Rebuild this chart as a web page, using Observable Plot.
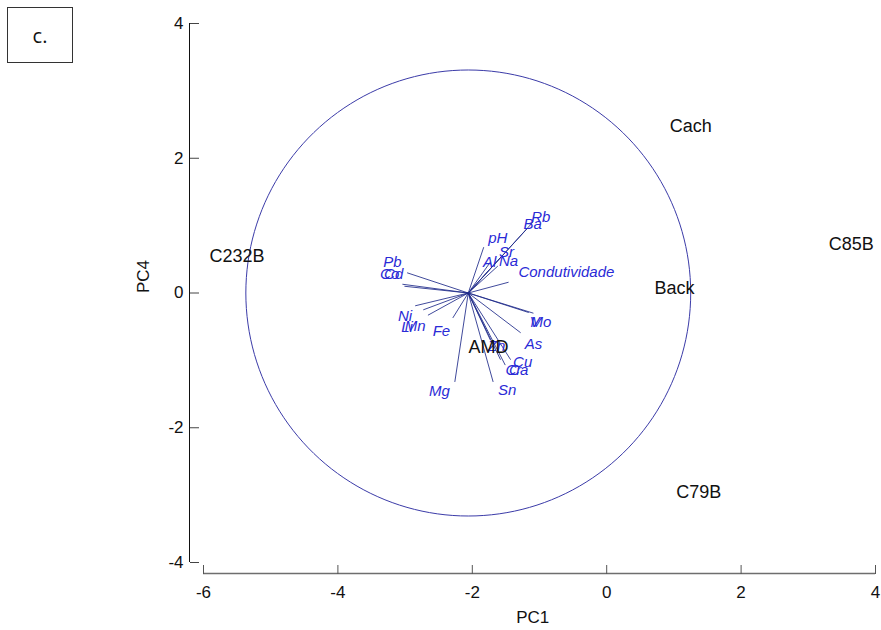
<!DOCTYPE html>
<html>
<head>
<meta charset="utf-8">
<script src="https://cdn.jsdelivr.net/npm/d3@7"></script>
<script src="https://cdn.jsdelivr.net/npm/@observablehq/plot@0.6"></script>
<style>
  body { margin: 0; background: #fff; font-family: "Liberation Sans", Arial, sans-serif; }
  #wrap { position: relative; width: 881px; height: 630px; }
  #tag { position: absolute; left: 7px; top: 7px; width: 64px; height: 54px; border: 1px solid #333;
         display: flex; align-items: center; justify-content: center; font-family: "Open Sans", sans-serif; font-size: 20px; color: #111; }
  #chart { position: absolute; left: 0; top: 0; }
</style>
</head>
<body>
<div id="wrap"><div id="chart"></div><div id="tag">c.</div></div>
<script>
// Axes
const xDomain = [-6, 4];
const yDomain = [-4, 4];
const xTicks = [-6, -4, -2, 0, 2, 4];
const yTicks = [-4, -2, 0, 2, 4];

// Sample scores
const sampleNames = ["C232B", "Cach", "C85B", "Back", "AMD", "C79B"];
const sampleX = [-5.5, 1.25, 3.64, 1.01, -1.76, 1.37];
const sampleY = [0.55, 2.47, 0.73, 0.07, -0.80, -2.96];

// Variable loadings (vector origin, end points and label positions)
const origin = [-2.06, 0];
const varNames = ["Rb", "Ba", "pH", "Sr", "Al", "Na", "Condutividade", "Pb", "Cd", "Co", "Ni", "Li", "Mn", "Fe", "Mg", "Sn", "Cu", "Cr", "Ca", "Zn", "As", "Mo", "V"];
const varX = [-1.10, -1.18, -1.83, -1.55, -1.73, -1.62, -1.46, -2.97, -3.04, -3.01, -2.85, -2.73, -2.66, -2.29, -2.26, -1.69, -1.43, -1.51, -1.58, -1.73, -1.28, -1.09, -1.16];
const varY = [1.05, 0.96, 0.68, 0.56, 0.46, 0.40, 0.16, 0.30, 0.13, 0.10, -0.19, -0.25, -0.33, -0.37, -1.32, -1.32, -0.99, -1.07, -0.99, -0.70, -0.59, -0.30, -0.29];
const labelX = [-0.98, -1.10, -1.62, -1.49, -1.74, -1.46, -0.60, -3.19, -3.17, -3.23, -3.00, -2.97, -2.85, -2.46, -2.49, -1.48, -1.25, -1.39, -1.31, -1.64, -1.09, -0.98, -1.07];
const labelY = [1.13, 1.02, 0.81, 0.61, 0.46, 0.47, 0.31, 0.46, 0.28, 0.28, -0.34, -0.50, -0.49, -0.56, -1.45, -1.44, -1.02, -1.14, -1.14, -0.79, -0.76, -0.43, -0.43];

// Correlation circle
const circleRadius = 3.31;

const samples = sampleNames.map((name, i) => ({name, x: sampleX[i], y: sampleY[i]}));
const vars = varNames.map((name, i) => ({name, x: varX[i], y: varY[i], lx: labelX[i], ly: labelY[i]}));
const circle = d3.range(0, 361, 2).map(a => ({
  x: origin[0] + circleRadius * Math.cos(a * Math.PI / 180),
  y: origin[1] + circleRadius * Math.sin(a * Math.PI / 180)
}));

const font = "Liberation Sans, Arial, sans-serif";
const fmt = d => String(d);

const chart = Plot.plot({
  width: 881,
  height: 630,
  marginLeft: 203,
  marginRight: 6,
  marginTop: 23,
  marginBottom: 68,
  style: {fontFamily: font, background: "transparent", overflow: "visible"},
  x: {domain: xDomain, ticks: xTicks},
  y: {domain: yDomain, ticks: yTicks},
  marks: [
    // x axis line, ticks (upward) and labels
    Plot.ruleY([yDomain[0]], {x1: xDomain[0], x2: xDomain[1], dy: 11, stroke: "#6e6e6e", strokeWidth: 1.3}),
    Plot.axisX(xTicks, {anchor: "top", frameAnchor: "bottom", dy: 11, tickSize: 9, tickFormat: () => "", stroke: "#555", label: null}),
    Plot.axisX(xTicks, {anchor: "bottom", dy: 11, tickSize: 0, tickPadding: 12, fontSize: 17, fill: "#111", tickFormat: fmt, label: null}),
    Plot.text(["PC1"], {frameAnchor: "bottom", x: () => (xDomain[0] + xDomain[1]) / 2 - 0.1, dy: 60, text: d => d, fontSize: 17, fill: "#111"}),
    // y axis line, ticks (rightward) and labels
    Plot.ruleX([xDomain[0]], {y1: yDomain[0], y2: yDomain[1], dx: -14, stroke: "#111", strokeWidth: 1}),
    Plot.axisY(yTicks, {anchor: "right", frameAnchor: "left", dx: -14, tickSize: 9, tickFormat: () => "", stroke: "#444", label: null}),
    Plot.axisY(yTicks, {anchor: "left", dx: -14, tickSize: 0, tickPadding: 6, fontSize: 17, fill: "#111", tickFormat: fmt, label: null}),
    Plot.text(["PC4"], {frameAnchor: "left", y: () => 0, dx: -60, rotate: -90, text: d => d, fontSize: 17, fill: "#111"}),
    // circle
    Plot.line(circle, {x: "x", y: "y", stroke: "#3b3ba8", strokeWidth: 1, curve: "linear"}),
    // vectors
    Plot.link(vars, {x1: () => origin[0], y1: () => origin[1], x2: "x", y2: "y", stroke: "#1f2a8a", strokeWidth: 1, strokeOpacity: 0.85}),
    Plot.text(vars, {x: "lx", y: "ly", text: "name", fill: "#2a2ad6", fontSize: 15, fontStyle: "italic"}),
    // samples
    Plot.text(samples, {x: "x", y: "y", text: "name", fill: "#111", fontSize: 18})
  ]
});
document.getElementById("chart").appendChild(chart);
</script>
</body>
</html>
